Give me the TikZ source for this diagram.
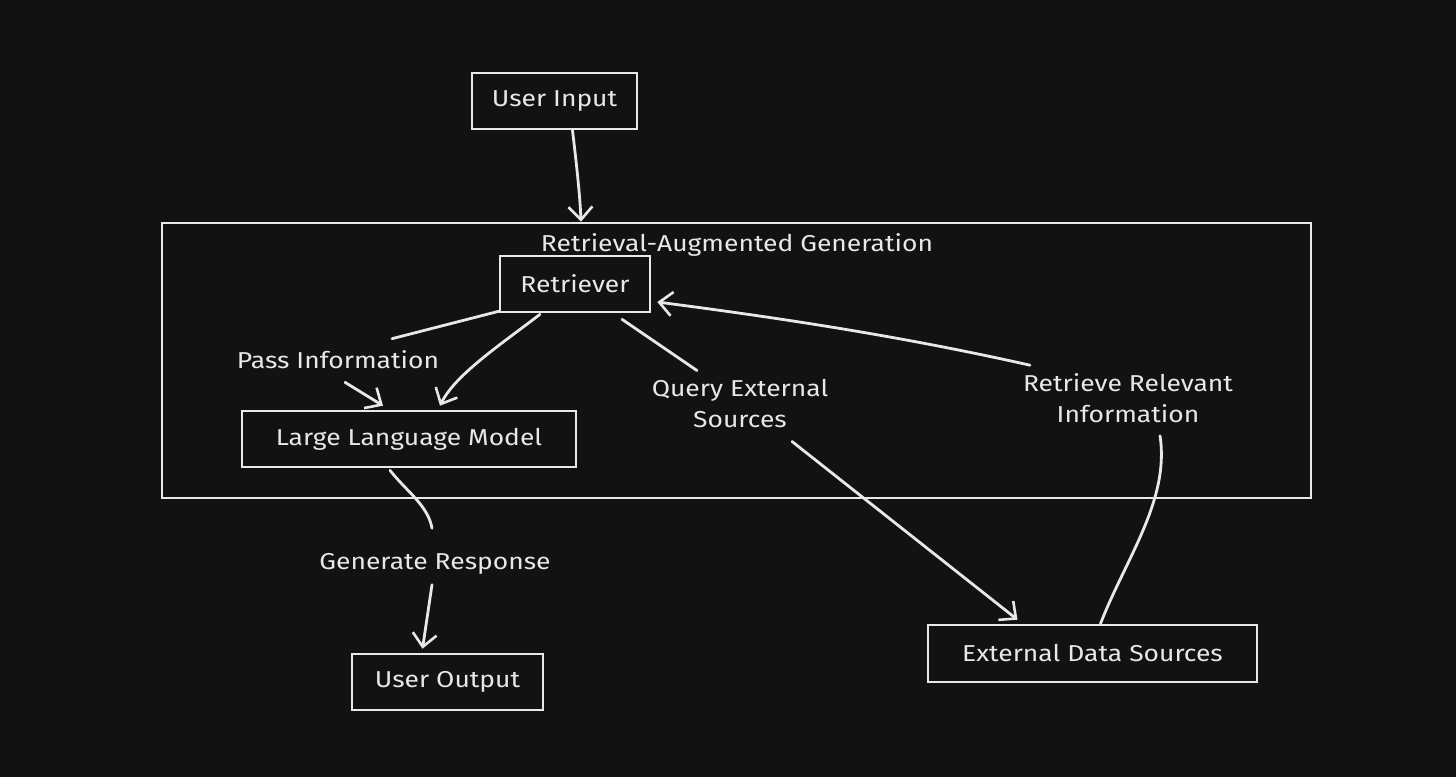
\documentclass[tikz,border=0pt]{standalone}
\usepackage{fontspec}
\setmainfont{Fira Sans}[FakeStretch=1.15]
\usetikzlibrary{arrows.meta,calc}
\definecolor{bg}{HTML}{121212}
\definecolor{fg}{HTML}{E8E8E8}
\tikzset{
  box/.style={draw=fg, line width=2.6bp, text=fg, inner sep=0pt, font=\fontsize{23bp}{27bp}\selectfont},
  lbl/.style={text=fg, inner sep=0pt, align=center, font=\fontsize{23bp}{31bp}\selectfont},
  ln/.style={draw=fg, line width=2.8bp, line cap=round},
  arr/.style={ln, -{Straight Barb[length=13bp,width=24bp,line width=2.6bp]}}
}
\begin{document}
\begin{tikzpicture}[x=1bp,y=-1bp]
\fill[bg] (0,0) rectangle (1456,777);
\useasboundingbox (0,0) rectangle (1456,777);
% containers and boxes
\node[box, minimum width=1149bp, minimum height=275bp] (rag) at (736.5,360.5) {};
\node[lbl] (title) at (737,245) {Retrieval-Augmented Generation};
\node[box, minimum width=165bp, minimum height=56bp] (ui) at (554.5,101) {User Input};
\node[box, minimum width=150bp, minimum height=56bp] (ret) at (575,284) {Retriever};
\node[box, minimum width=334bp, minimum height=56bp] (llm) at (409,439) {Large Language Model};
\node[box, minimum width=191bp, minimum height=56bp] (uo) at (447.5,682) {User Output};
\node[box, minimum width=329bp, minimum height=57bp] (ext) at (1092.5,653.5) {External Data Sources};
% labels
\node[lbl] (pi) at (338,360) {Pass Information};
\node[lbl] (q) at (740,404) {Query External\\Sources};
\node[lbl] (r) at (1128,398) {Retrieve Relevant\\Information};
\node[lbl] (gr) at (435,564) {Generate Response};
% connectors
\draw[arr] ($(ui.south)+(18,0)$) .. controls (576,160) and (580,195) .. ($(rag.north)+(-155.5,0)$);
\draw[arr] ($(ret.south)+(-35,1)$) .. controls (500,345) and (455,375) .. ($(llm.north)+(31,-4)$);
\draw[ln] ($(ret.south west)+(0,-2)$) -- ($(pi.north)+(54,-12)$);
\draw[arr] ($(pi.south)+(7,13)$) -- ($(llm.north)+(-26,-4)$);
\draw[ln] ($(ret.south)+(47,6)$) -- ($(q.north)+(-43,-9)$);
\draw[arr] ($(q.south)+(52,13)$) -- ($(ext.north)+(-75,-4)$);
\draw[ln] ($(ext.north)+(8,0)$) .. controls (1125,560) and (1170,500) .. ($(r.south)+(32,13)$);
\draw[arr] ($(r.north)+(-98,-8)$) .. controls (900,336) and (780,318) .. ($(ret.east)+(6,18)$);
\draw[ln] ($(llm.south)+(-19,2)$) .. controls (405,490) and (428,505) .. ($(gr.north)+(-3,-25)$);
\draw[arr] ($(gr.south)+(-3,10)$) -- ($(uo.north)+(-25,-4)$);
\end{tikzpicture}
\end{document}
